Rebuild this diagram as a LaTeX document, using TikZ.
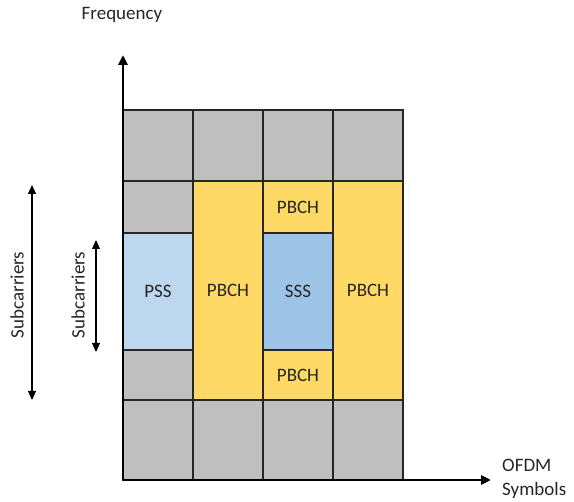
\documentclass[tikz,border=0pt]{standalone}
\usepackage{fontspec}
\setmainfont{Carlito}
\usetikzlibrary{arrows.meta}
\definecolor{cellgray}{HTML}{BFBFBF}
\definecolor{pbchyellow}{HTML}{FFD966}
\definecolor{pssblue}{HTML}{BDD7EE}
\definecolor{sssblue}{HTML}{9DC3E6}
\definecolor{gridline}{HTML}{262626}
\begin{document}
\begin{tikzpicture}[x=1pt,y=-1pt,
  cell/.style={draw=gridline, line width=1.4pt, rectangle, inner sep=0pt,
    minimum width=70pt, font=\fontsize{19}{23}\selectfont, text=black!85},
  axis/.style={line width=2.8pt, -{Triangle[length=10pt,width=9pt]}},
  span/.style={line width=1.1pt, {Triangle[length=9pt,width=8pt]}-{Triangle[length=9pt,width=8pt]}},
  lbl/.style={font=\fontsize{19}{24}\selectfont, text=black!85, inner sep=0pt}]
\useasboundingbox (0,0) rectangle (574,502);

% column 1
\node[cell, fill=cellgray, minimum height=71pt] (g11) at (158,145.5) {};
\node[cell, fill=cellgray, minimum height=52pt] (g12) at (158,207) {};
\node[cell, fill=pssblue, minimum height=117pt] (pss) at (158,291.5) {PSS};
\node[cell, fill=cellgray, minimum height=50pt] (g14) at (158,375) {};
\node[cell, fill=cellgray, minimum height=80pt] (g15) at (158,440) {};
% column 2
\node[cell, fill=cellgray, minimum height=71pt] (g21) at (228,145.5) {};
\node[cell, fill=pbchyellow, minimum height=219pt] (pbch2) at (228,290.5) {PBCH};
\node[cell, fill=cellgray, minimum height=80pt] (g25) at (228,440) {};
% column 3
\node[cell, fill=cellgray, minimum height=71pt] (g31) at (298,145.5) {};
\node[cell, fill=pbchyellow, minimum height=52pt] (pbch3a) at (298,207) {PBCH};
\node[cell, fill=sssblue, minimum height=117pt] (sss) at (298,291.5) {SSS};
\node[cell, fill=pbchyellow, minimum height=50pt] (pbch3b) at (298,375) {PBCH};
\node[cell, fill=cellgray, minimum height=80pt] (g35) at (298,440) {};
% column 4
\node[cell, fill=cellgray, minimum height=71pt] (g41) at (368,145.5) {};
\node[cell, fill=pbchyellow, minimum height=219pt] (pbch4) at (368,290.5) {PBCH};
\node[cell, fill=cellgray, minimum height=80pt] (g45) at (368,440) {};

% axes
\coordinate (origin) at (123,480);
\coordinate (ftip) at (123,55);
\coordinate (ttip) at (491,480);
\draw[axis] (origin) -- (ftip);
\draw[axis] (origin) -- (ttip);
\node[lbl] (freq) at (122,15) {Frequency};
\node[lbl, align=left, anchor=west] (ofdm) at (502,479) {OFDM\\Symbols};

% subcarrier spans
\coordinate (bigtop) at (32,185);
\coordinate (bigbot) at (32,400);
\coordinate (smalltop) at (96,240);
\coordinate (smallbot) at (96,352);
\draw[span] (bigtop) -- (bigbot);
\draw[span] (smalltop) -- (smallbot);
\node[lbl, rotate=90] (sc1) at (17,295) {Subcarriers};
\node[lbl, rotate=90] (sc2) at (78,295) {Subcarriers};
\end{tikzpicture}
\end{document}
